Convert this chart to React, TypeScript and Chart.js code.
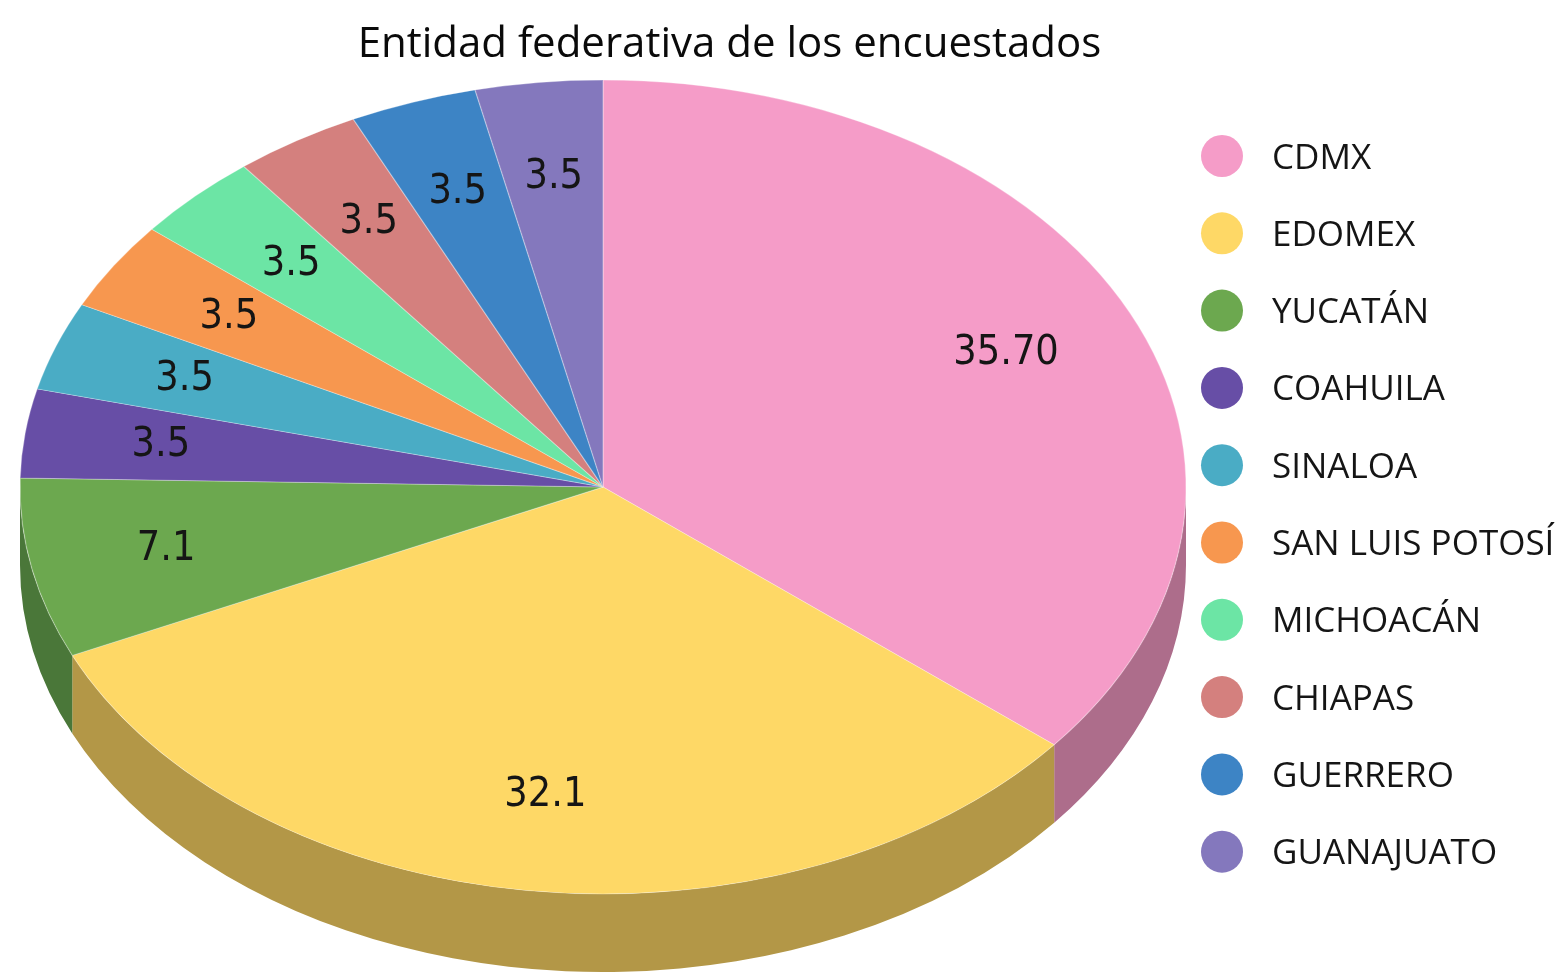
import React, { useEffect, useRef } from "react";
import { Chart, registerables } from "chart.js";

Chart.register(...registerables);

const titleText = "Entidad federativa de los encuestados";
const categories = [
  "CDMX",
  "EDOMEX",
  "YUCATÁN",
  "COAHUILA",
  "SINALOA",
  "SAN LUIS POTOSÍ",
  "MICHOACÁN",
  "CHIAPAS",
  "GUERRERO",
  "GUANAJUATO",
];
const values = [35.7, 32.1, 7.1, 3.5, 3.5, 3.5, 3.5, 3.5, 3.5, 3.5];
const valueLabels = ["35.70", "32.1", "7.1", "3.5", "3.5", "3.5", "3.5", "3.5", "3.5", "3.5"];
const topColors = [
  "#F59CC8",
  "#FED866",
  "#6CA84F",
  "#674EA6",
  "#4AACC5",
  "#F7974F",
  "#6CE5A5",
  "#D4807E",
  "#3D84C5",
  "#8478BD",
];
const sideColors = [
  "#AD6D8B",
  "#B39747",
  "#4A7739",
  "#4A3778",
  "#34798C",
  "#AF6A37",
  "#4CA274",
  "#965A59",
  "#2B5D8C",
  "#5D5586",
];

// layout of the drawing (screen pixels)
const W = 1568;
const H = 972;
const EX = 603;
const EY = 487;
const RX = 583;
const RY = 407;
const DEPTH = 78;
const LABEL_R = 0.765;
const LEG_X = 1222;
const LEG_Y0 = 156;
const LEG_STEP = 77.3;

const pie3d = {
  id: "pie3d",
  beforeDatasetsDraw(chart: any) {
    const ctx = chart.ctx as CanvasRenderingContext2D;
    const arcs = chart.getDatasetMeta(0).data as any[];
    if (!arcs.length) return;
    const cx = arcs[0].x;
    const cy = arcs[0].y;
    const R = arcs[0].outerRadius;
    arcs.forEach((a: any, i: number) => {
      const s = Math.max(a.startAngle, 0);
      const e = Math.min(a.endAngle, Math.PI);
      if (e <= s) return;
      ctx.beginPath();
      ctx.ellipse(EX, EY, RX, RY, 0, s, e, false);
      ctx.ellipse(EX, EY + DEPTH, RX, RY, 0, e, s, true);
      ctx.closePath();
      ctx.fillStyle = sideColors[i];
      ctx.fill();
    });
    ctx.save();
    ctx.translate(EX, EY);
    ctx.scale(RX / R, RY / R);
    ctx.translate(-cx, -cy);
  },
  afterDatasetsDraw(chart: any) {
    const ctx = chart.ctx as CanvasRenderingContext2D;
    ctx.restore();
    const arcs = chart.getDatasetMeta(0).data as any[];
    ctx.save();
    ctx.font = '41px "DejaVu Sans Condensed", "DejaVu Sans", sans-serif';
    ctx.fillStyle = "#151515";
    ctx.textAlign = "center";
    ctx.textBaseline = "middle";
    arcs.forEach((a: any, i: number) => {
      const m = (a.startAngle + a.endAngle) / 2;
      const x = EX + LABEL_R * RX * Math.cos(m);
      const y = EY + LABEL_R * RY * Math.sin(m);
      ctx.fillText(valueLabels[i], x, y);
    });
    ctx.restore();
  },
  afterDraw(chart: any) {
    const ctx = chart.ctx as CanvasRenderingContext2D;
    ctx.save();
    ctx.font = '35px "Open Sans", sans-serif';
    ctx.textAlign = "left";
    ctx.textBaseline = "alphabetic";
    categories.forEach((c, i) => {
      const y = LEG_Y0 + i * LEG_STEP;
      ctx.beginPath();
      ctx.arc(LEG_X, y, 21, 0, Math.PI * 2);
      ctx.fillStyle = topColors[i];
      ctx.fill();
      ctx.fillStyle = "#151515";
      ctx.fillText(c, 1272, y + 12.5);
    });
    ctx.restore();
  },
};

export default function App() {
  const ref = useRef<HTMLCanvasElement | null>(null);
  useEffect(() => {
    document.body.style.margin = "0";
    const canvas = ref.current!;
    const chart = new Chart(canvas, {
      type: "pie",
      data: {
        labels: categories,
        datasets: [
          {
            data: values,
            backgroundColor: topColors,
            borderColor: "rgba(255,255,255,0.3)",
            borderWidth: 1,
            clip: false as any,
          },
        ],
      },
      options: {
        responsive: false,
        animation: false,
        devicePixelRatio: 1,
        layout: { padding: { left: 0, right: 109, top: 0, bottom: 0 } },
        plugins: {
          legend: { display: false },
          tooltip: { enabled: false },
          title: {
            display: true,
            text: titleText,
            color: "#0a0a0a",
            font: { family: '"Open Sans", sans-serif', size: 42, weight: "normal" as any },
            padding: { top: 20, bottom: 10 },
          },
        },
      },
      plugins: [pie3d as any],
    });
    return () => chart.destroy();
  }, []);
  return (
    <div style={{ width: W, height: H }}>
      <canvas ref={ref} width={W} height={H} style={{ display: "block" }} />
    </div>
  );
}
